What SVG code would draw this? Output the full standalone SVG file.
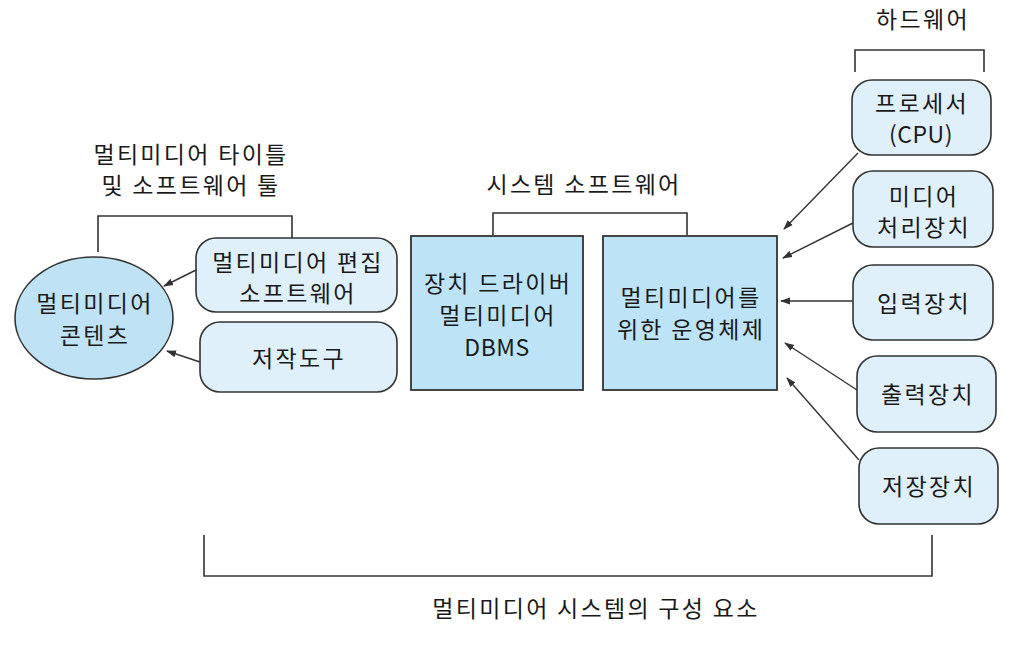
<svg xmlns="http://www.w3.org/2000/svg" width="1024" height="645" viewBox="0 0 1024 645">
<style>
text{font-family:"Noto Sans CJK KR","Noto Sans",sans-serif;font-size:23px;letter-spacing:2.3px;fill:#1a1a1a;text-anchor:middle;dominant-baseline:central}
.lat{letter-spacing:0.5px}
.rb{fill:#dff0fa;stroke:#333;stroke-width:1.6}
.sq{fill:#bde3f7;stroke:#333;stroke-width:1.8}
.br{fill:none;stroke:#333;stroke-width:1.6}
.ar{fill:none;stroke:#333;stroke-width:1.4;marker-end:url(#ah)}
</style>
<defs>
<marker id="ah" viewBox="0 0 10 10" refX="9" refY="5" markerWidth="10" markerHeight="10" markerUnits="userSpaceOnUse" orient="auto">
<path d="M0,1.5 L10,5 L0,8.5 Z" fill="#333"/>
</marker>
</defs>
<rect width="1024" height="645" fill="#fff"/>

<g id="labels">
<text x="191" y="153">멀티미디어 타이틀</text>
<text x="191" y="184">및 소프트웨어 툴</text>
<text x="584" y="183">시스템 소프트웨어</text>
<text x="923" y="18">하드웨어</text>
<text x="596" y="607">멀티미디어 시스템의 구성 요소</text>
</g>

<g id="brackets">
<path class="br" d="M98,252 V216 H292 V238"/>
<path class="br" d="M493,235 V213 H687 V235"/>
<path class="br" d="M855,72 V50 H984 V72"/>
<path class="br" d="M204,535 V576 H932 V535"/>
</g>

<g id="content">
<ellipse cx="94" cy="318" rx="79" ry="61" fill="#bfe3f5" stroke="#333" stroke-width="1.6"/>
<text x="95" y="302">멀티미디어</text>
<text x="95" y="334">콘텐츠</text>
</g>

<g id="editing-sw">
<rect class="rb" x="196" y="238" width="201" height="74" rx="20"/>
<text x="298" y="261">멀티미디어 편집</text>
<text x="298" y="292">소프트웨어</text>
</g>

<g id="authoring">
<rect class="rb" x="200" y="322" width="197" height="70" rx="20"/>
<text x="299" y="357">저작도구</text>
</g>

<g id="drivers">
<rect class="sq" x="411" y="236" width="172" height="154"/>
<text x="498" y="282">장치 드라이버</text>
<text x="498" y="314">멀티미디어</text>
<text x="497" y="346" class="lat">DBMS</text>
</g>

<g id="os">
<rect class="sq" x="603" y="236" width="174" height="154"/>
<text x="691" y="296">멀티미디어를</text>
<text x="691" y="328">위한 운영체제</text>
</g>

<g id="cpu">
<rect class="rb" x="852" y="80" width="139" height="75" rx="20"/>
<text x="922" y="102">프로세서</text>
<text x="921" y="133" class="lat">(CPU)</text>
</g>

<g id="media-proc">
<rect class="rb" x="853" y="171" width="140" height="76" rx="20"/>
<text x="924" y="195">미디어</text>
<text x="924" y="226">처리장치</text>
</g>

<g id="input">
<rect class="rb" x="853" y="265" width="140" height="75" rx="20"/>
<text x="924" y="302">입력장치</text>
</g>

<g id="output">
<rect class="rb" x="857" y="356" width="139" height="76" rx="20"/>
<text x="928" y="393">출력장치</text>
</g>

<g id="storage">
<rect class="rb" x="859" y="448" width="139" height="76" rx="20"/>
<text x="929" y="485">저장장치</text>
</g>

<g id="connectors">
<line class="ar" x1="196" y1="270" x2="164" y2="286"/>
<line class="ar" x1="200" y1="362" x2="167" y2="351"/>
<line class="ar" x1="858" y1="153" x2="784" y2="229"/>
<line class="ar" x1="853" y1="223" x2="783" y2="258"/>
<line class="ar" x1="853" y1="301" x2="781" y2="301"/>
<line class="ar" x1="857" y1="390" x2="785" y2="343"/>
<line class="ar" x1="859" y1="460" x2="787" y2="378"/>
</g>
</svg>
